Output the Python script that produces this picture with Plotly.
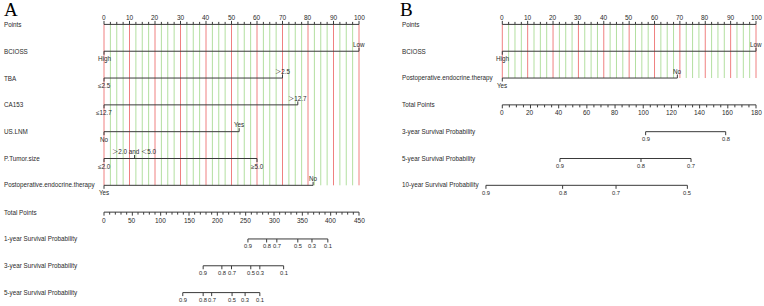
import plotly.graph_objects as go

# ---------------- data ----------------
# Panel A
A_points_ticks = list(range(0, 101, 10))
A_var_names = ["BCIOSS", "TBA", "CA153", "US.LNM", "P.Tumor.size",
               "Postoperative.endocrine.therapy"]
A_var_levels = [["High", "Low"],
                ["≤2.5", "＞2.5"],
                ["≤12.7", "＞12.7"],
                ["No", "Yes"],
                ["≤2.0", "＞2.0 and ＜5.0", "≥5.0"],
                ["Yes", "No"]]
A_var_points = [[0, 100],
                [0, 70],
                [0, 76],
                [0, 53],
                [0, 12, 60],
                [0, 82]]
A_total_max = 450
A_total_ticks = list(range(0, 451, 50))
A_surv_names = ["1-year Survival Probability",
                "3-year Survival Probability",
                "5-year Survival Probability"]
A_surv_probs = [[0.9, 0.8, 0.7, 0.5, 0.3, 0.1],
                [0.9, 0.8, 0.7, 0.5, 0.3, 0.1],
                [0.9, 0.8, 0.7, 0.5, 0.3, 0.1]]
A_surv_total = [[254, 287, 305, 342, 367, 395],
                [175, 208, 225, 259, 275, 317],
                [139, 175, 190, 226, 249, 275]]

# Panel B
B_points_ticks = list(range(0, 101, 10))
B_var_names = ["BCIOSS", "Postoperative.endocrine.therapy"]
B_var_levels = [["High", "Low"], ["Yes", "No"]]
B_var_points = [[0, 100], [0, 69]]
B_total_max = 180
B_total_ticks = list(range(0, 181, 20))
B_surv_names = ["3-year Survival Probability",
                "5-year Survival Probability",
                "10-year Survival Probability"]
B_surv_probs = [[0.9, 0.8],
                [0.9, 0.8, 0.7],
                [0.9, 0.8, 0.7, 0.5]]
B_surv_total = [[101.7, 158.5],
                [40.9, 98.4, 133.9],
                [-11.6, 42.8, 80.7, 131.3]]

# ---------------- styling ----------------
W, H = 764, 306
ROW_PX = 26.82          # pixel spacing between rows
ROW0_PX = 24.4          # pixel position of first row
LINE = "#3a3a3a"
TXT = "#2a2a2a"
RED = "#ef8080"
GREEN = "#b3dfa0"
FONT = "Liberation Sans, Arial, Noto Sans CJK SC, sans-serif"
FS_LAB = 6.3
FS_NUM = 6.5
FS_PROB = 5.8


def rows(px):
    return px / ROW_PX


fig = go.Figure()
annotations = []


def seg_trace(xs, ys, color, width, xa, ya):
    fig.add_trace(go.Scatter(x=xs, y=ys, mode="lines",
                             line=dict(color=color, width=width),
                             hoverinfo="skip", showlegend=False,
                             xaxis=xa, yaxis=ya))


def text(x, y, s, xref, yref, yshift=0, xanchor="center", size=FS_NUM, color=TXT,
         family=FONT):
    annotations.append(dict(x=x, y=y, text=s, xref=xref, yref=yref,
                            showarrow=False, xanchor=xanchor, yanchor="middle",
                            yshift=yshift, font=dict(size=size, color=color, family=family)))


def panel(xa, ya, label_x_paper, points_ticks, var_names, var_levels, var_points,
          total_max, total_ticks, total_minor, surv_names, surv_probs, surv_total):
    xref, yref = xa, ya
    n_var = len(var_names)
    last_var_row = n_var
    pmin, pmax = points_ticks[0], points_ticks[-1]

    # vertical grid lines (every 2.5 points, red at every 10)
    rx, ry, gx, gy = [], [], [], []
    step = 2.5
    k = 0
    while pmin + k * step <= pmax + 1e-9:
        v = pmin + k * step
        if k % 4 == 0:
            rx += [v, v, None]; ry += [0, last_var_row, None]
        else:
            gx += [v, v, None]; gy += [0, last_var_row, None]
        k += 1
    seg_trace(gx, gy, GREEN, 1, xa, ya)
    seg_trace(rx, ry, RED, 1, xa, ya)

    # Points axis (row 0), ticks up, labels above
    lx, ly = [pmin, pmax, None], [0, 0, None]
    k = 0
    while pmin + k * step <= pmax + 1e-9:
        v = pmin + k * step
        lx += [v, v, None]; ly += [0, -rows(3.5 if k % 4 == 0 else 2.5), None]
        k += 1
    seg_trace(lx, ly, LINE, 1, xa, ya)
    for v in points_ticks:
        text(v, 0, str(v), xref, yref, yshift=6.5)
    text(label_x_paper, 0, "Points", "paper", yref, xanchor="left", size=FS_LAB)

    # variable rows
    for i, (name, levs, pts) in enumerate(zip(var_names, var_levels, var_points)):
        r = i + 1
        xs = [min(pts), max(pts), None]
        ys = [r, r, None]
        for j, p in enumerate(pts):
            up = (j % 2 == 1)
            xs += [p, p, None]
            ys += [r, r - rows(3.5) if up else r + rows(3.5), None]
        seg_trace(xs, ys, LINE, 1, xa, ya)
        for j, (lv, p) in enumerate(zip(levs, pts)):
            up = (j % 2 == 1)
            text(p, r, lv, xref, yref, yshift=6.8 if up else -7.5, size=FS_LAB)
        text(label_x_paper, r, name, "paper", yref, xanchor="left", size=FS_LAB)

    # Total points axis
    r = n_var + 1
    scale = (pmax - pmin) / total_max
    xs = [total_ticks[0] * scale, total_ticks[-1] * scale, None]
    ys = [r, r, None]
    v = total_ticks[0]
    while v <= total_ticks[-1] + 1e-9:
        major = any(abs(v - t) < 1e-9 for t in total_ticks)
        xs += [v * scale, v * scale, None]
        ys += [r, r + rows(3.5 if major else 2.5), None]
        v += total_minor
    seg_trace(xs, ys, LINE, 1, xa, ya)
    for t in total_ticks:
        text(t * scale, r, str(t), xref, yref, yshift=-8)
    text(label_x_paper, r, "Total Points", "paper", yref, xanchor="left", size=FS_LAB)

    # survival probability axes
    for i, (name, probs, tps) in enumerate(zip(surv_names, surv_probs, surv_total)):
        r = n_var + 2 + i
        px = [tp * scale for tp in tps]
        xs = [min(px), max(px), None]
        ys = [r, r, None]
        for p in px:
            xs += [p, p, None]; ys += [r, r + rows(3.5), None]
        seg_trace(xs, ys, LINE, 1, xa, ya)
        for pr, p in zip(probs, px):
            text(p, r, f"{pr:g}", xref, yref, yshift=-7.5, size=FS_PROB)
        text(label_x_paper, r, name, "paper", yref, xanchor="left", size=FS_LAB)


panel("x", "y", 2 / W, A_points_ticks, A_var_names, A_var_levels, A_var_points,
      A_total_max, A_total_ticks, 10, A_surv_names, A_surv_probs, A_surv_total)
panel("x2", "y2", 400 / W, B_points_ticks, B_var_names, B_var_levels, B_var_points,
      B_total_max, B_total_ticks, 5, B_surv_names, B_surv_probs, B_surv_total)

# panel letters
SERIF = "Liberation Serif, Times New Roman, serif"
for lx, letter in ((3 / W, "A"), (399 / W, "B")):
    annotations.append(dict(x=lx, y=1, xref="paper", yref="paper", text=letter,
                            showarrow=False, xanchor="left", yanchor="top",
                            yshift=2, borderpad=0,
                            font=dict(size=19, color="#000", family=SERIF)))

# axis geometry: panel A points 0 -> x=104px, 100 -> 359px ; panel B 0 -> 502.3px, 100 -> 756px
a_ppu = (359 - 104) / 100
a_r0 = -104 / a_ppu
a_r1 = a_r0 + 382 / a_ppu
b_ppu = (756 - 502.3) / 100
b_r0 = -(502.3 - 382) / b_ppu
b_r1 = b_r0 + 382 / b_ppu
y0 = -ROW0_PX / ROW_PX
y1 = y0 + H / ROW_PX

hidden = dict(visible=False, fixedrange=True, showgrid=False, zeroline=False)
fig.update_layout(
    width=W, height=H, margin=dict(l=0, r=0, t=0, b=0),
    paper_bgcolor="white", plot_bgcolor="white",
    xaxis=dict(domain=[0, 0.5], range=[a_r0, a_r1], **hidden),
    yaxis=dict(domain=[0, 1], range=[y1, y0], **hidden),
    xaxis2=dict(domain=[0.5, 1], range=[b_r0, b_r1], anchor="y2", **hidden),
    yaxis2=dict(domain=[0, 1], range=[y1, y0], anchor="x2", **hidden),
    annotations=annotations,
    showlegend=False,
)

fig.write_html("out.html")
